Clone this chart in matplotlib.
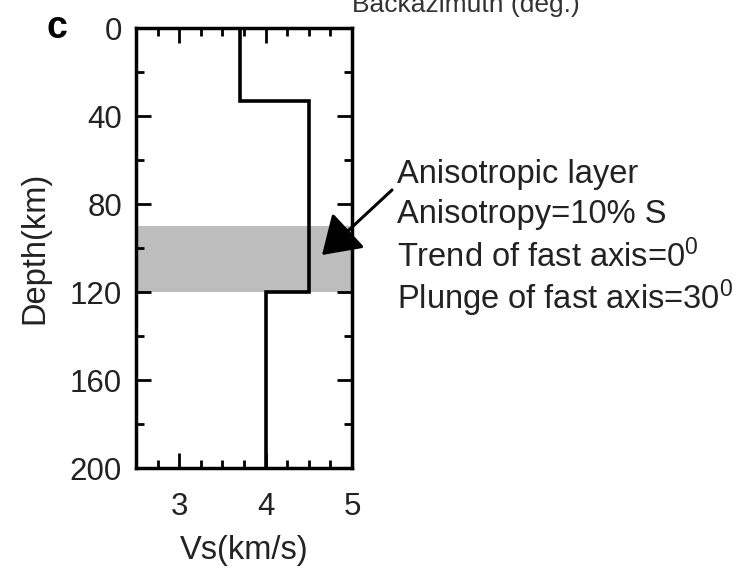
import matplotlib
matplotlib.use("Agg")
import matplotlib.pyplot as plt
from matplotlib.patches import FancyArrowPatch
from matplotlib.ticker import MultipleLocator

plt.rcParams['font.family'] = ['Liberation Sans', 'DejaVu Sans']
plt.rcParams['mathtext.fontset'] = 'custom'
plt.rcParams['mathtext.rm'] = 'Liberation Sans'
plt.rcParams['mathtext.it'] = 'Liberation Sans'

# velocity model (step profile)
layer_top = [0, 33, 120]
layer_bottom = [33, 120, 200]
layer_vs = [3.7, 4.5, 4.0]

# anisotropic layer depth range
aniso_top = 90
aniso_bottom = 120

notes = ["Anisotropic layer",
         "Anisotropy=10% S",
         "Trend of fast axis=0$^0$",
         "Plunge of fast axis=30$^0$"]

# build step line
vs_line = []
depth_line = []
for top, bot, v in zip(layer_top, layer_bottom, layer_vs):
    vs_line += [v, v]
    depth_line += [top, bot]

fig = plt.figure(figsize=(7.45, 5.73), dpi=100)
ax = fig.add_axes([136/745, 1-468/573, 216/745, 440/573])

ax.axhspan(aniso_top, aniso_bottom, color='#bdbdbd', lw=0, zorder=1)
ax.plot(vs_line, depth_line, color='black', lw=2.6, zorder=3,
        solid_joinstyle='miter')

ax.set_xlim(2.5, 5)
ax.set_ylim(200, 0)
ax.xaxis.set_major_locator(MultipleLocator(1))
ax.xaxis.set_minor_locator(MultipleLocator(0.25))
ax.yaxis.set_major_locator(MultipleLocator(40))
ax.yaxis.set_minor_locator(MultipleLocator(20))

for s in ax.spines.values():
    s.set_linewidth(2.5)
    s.set_zorder(4)
ax.tick_params(which='both', direction='in', top=True, right=True,
               width=2.0, labelsize=22.5, colors='black', labelcolor='#222222')
ax.tick_params(which='major', length=11)
ax.tick_params(which='minor', length=6)
ax.tick_params(axis='y', pad=10)
ax.tick_params(axis='x', pad=17)

ax.set_xlabel("Vs(km/s)", fontsize=23.5, color='#222222', labelpad=10)
ax.set_ylabel("Depth(km)", fontsize=23.5, color='#222222', labelpad=14)

# annotation text and arrow
ys = [175, 215, 257, 298]
for t, yp in zip(notes, ys):
    fig.text(397/745, 1-yp/573, t, fontsize=23.5, color='#222222',
             ha='left', va='center')

fig.patches.append(FancyArrowPatch(
    (392/745, 1-190/573), (322/745, 1-255/573), transform=fig.transFigure,
    arrowstyle='-|>,head_length=1.15,head_width=0.75', mutation_scale=20,
    color='black', lw=2.2, shrinkA=0, shrinkB=0))

fig.text(57/745, 1-28/573, "c", fontsize=27, fontweight='bold',
         ha='center', va='center')
fig.text(352/745, 1-12/573, "Backazimuth (deg.)", fontsize=19,
         color='#333333', ha='left', va='baseline')

fig.savefig("out.png", dpi=100)
